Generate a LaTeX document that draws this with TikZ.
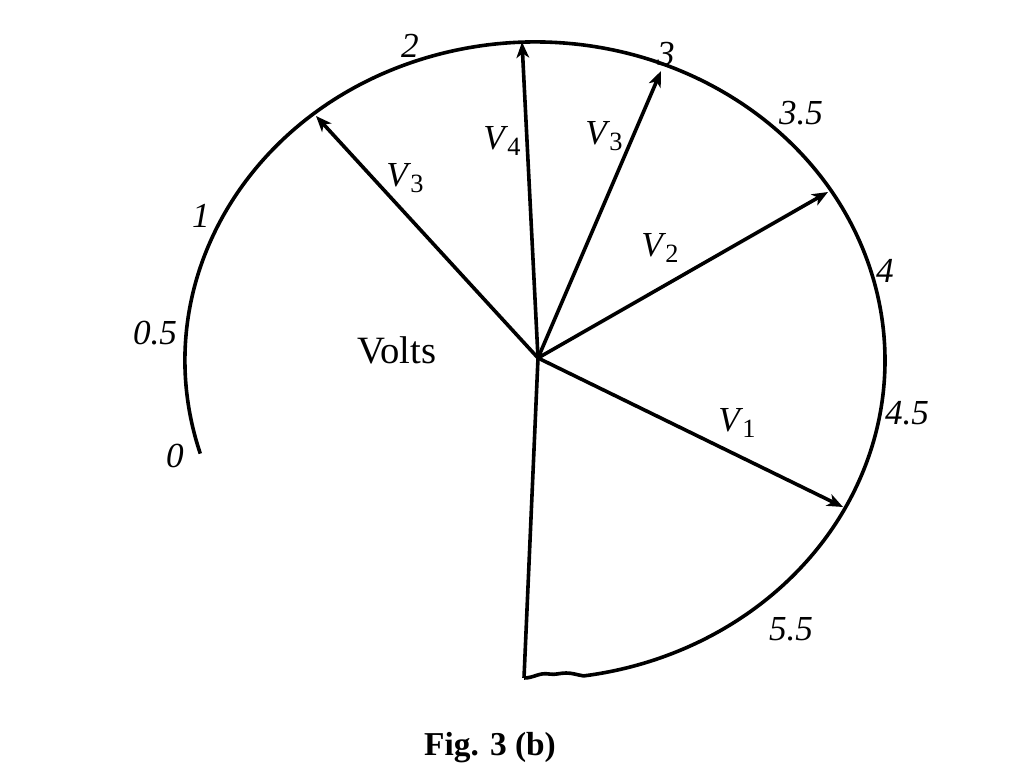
\documentclass[tikz,border=0pt]{standalone}
\usepackage{fontspec}
\setmainfont{Liberation Serif}
\usetikzlibrary{arrows.meta}
\newlength{\du}
\setlength{\du}{0.569pt}
\newcommand{\vname}[1]{\textit{V}\kern-0.5pt{\fontsize{15}{15}\selectfont\raisebox{-3pt}{#1}}}

\begin{document}
\begin{tikzpicture}[
  vec/.style={-{Stealth[length=9pt,width=7.2pt,inset=2.5pt]}},
  scalelbl/.style={font=\fontsize{20}{20}\selectfont\itshape},
  veclbl/.style={font=\fontsize{20}{20}\selectfont},
  plainlbl/.style={font=\fontsize{22}{22}\selectfont},
  caplbl/.style={font=\fontsize{19}{19}\selectfont\bfseries}
]
\pgftransformxscale{1.000000}
\pgftransformyscale{-1.000000}
\definecolor{dialinecolor}{rgb}{0.000000, 0.000000, 0.000000}
\pgfsetstrokecolor{dialinecolor}
\pgfsetfillcolor{dialinecolor}
\pgfsetlinewidth{3.600000\du}
\useasboundingbox (0\du,0\du) rectangle (1024\du,767\du);
% centre of the scale and origin of the vectors
\coordinate (C) at (535\du,360.5\du);
\coordinate (O) at (538\du,358\du);
\coordinate (w1) at (566\du,673\du);
\coordinate (w2) at (549\du,674\du);
\coordinate (b) at (524\du,678\du);
% the scale
\draw ([shift={(163:{350\du} and {318.5\du})}]C) arc[start angle=163, end angle=442, x radius=350\du, y radius=318.5\du]
  to[out=188,in=0] (w1) to[out=180,in=10] (w2) to[out=190,in=0] (b);
\draw (O) -- (b);
% vectors
\coordinate (t1) at (843\du,507\du);
\coordinate (t2) at (828\du,192\du);
\coordinate (t3) at (661\du,71\du);
\coordinate (t4) at (522\du,42\du);
\coordinate (t5) at (316\du,116\du);
\draw[vec] (O) -- (t1);
\draw[vec] (O) -- (t2);
\draw[vec] (O) -- (t3);
\draw[vec] (O) -- (t4);
\draw[vec] (O) -- (t5);
% setfont left to latex
\node[veclbl] (v1) at (737\du,423\du) {\vname{1}};
\node[veclbl] (v2) at (660\du,248\du) {\vname{2}};
\node[veclbl] (v3a) at (604\du,136\du) {\vname{3}};
\node[veclbl] (v4) at (502\du,141\du) {\vname{4}};
\node[veclbl] (v3b) at (405\du,178\du) {\vname{3}};
\node[scalelbl] (s0) at (175\du,456\du) {0};
\node[scalelbl] (s05) at (155\du,333\du) {0.5};
\node[scalelbl] (s1) at (201\du,216\du) {1};
\node[scalelbl] (s2) at (410\du,46\du) {2};
\node[scalelbl] (s3) at (666\du,54\du) {3};
\node[scalelbl] (s35) at (801\du,113\du) {3.5};
\node[scalelbl] (s4) at (885\du,271\du) {4};
\node[scalelbl] (s45) at (907\du,413\du) {4.5};
\node[scalelbl] (s55) at (791\du,629\du) {5.5};
\node[plainlbl] (volts) at (397\du,350\du) {Volts};
\node[caplbl] (fig) at (490\du,748\du) {Fig. 3 (b)};
\end{tikzpicture}
\end{document}
